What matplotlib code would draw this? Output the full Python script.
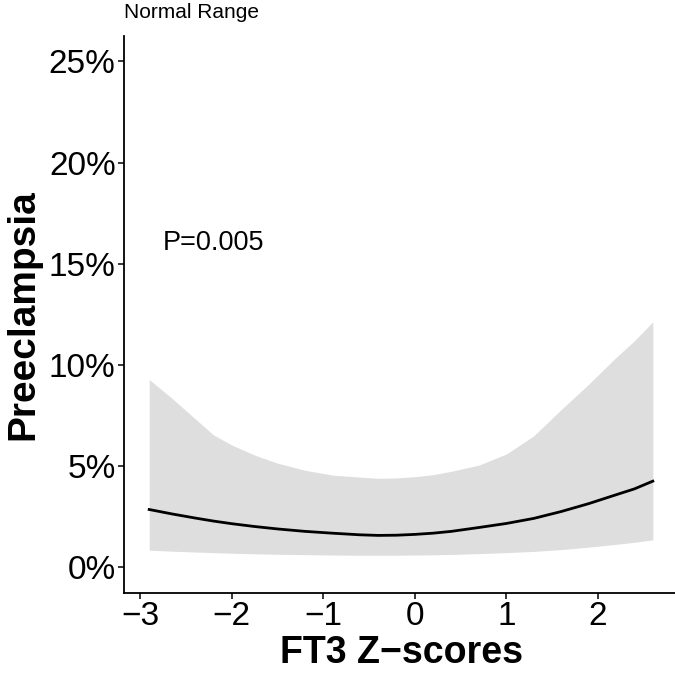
import matplotlib
matplotlib.use("Agg")
import matplotlib.pyplot as plt

plt.rcParams['font.family'] = ['Liberation Sans', 'DejaVu Sans']

# Data (percent)
x_fit = [-2.9, -2.65, -2.4, -2.2, -2.0, -1.75, -1.5, -1.2, -0.9, -0.6, -0.4, -0.2,
         0.0, 0.2, 0.4, 0.7, 1.0, 1.3, 1.6, 1.9, 2.2, 2.4, 2.6]
y_fit = [2.86, 2.64, 2.44, 2.29, 2.16, 2.02, 1.90, 1.78, 1.69, 1.61, 1.58, 1.59,
         1.63, 1.69, 1.78, 1.97, 2.17, 2.42, 2.76, 3.15, 3.59, 3.88, 4.26]
y_upper = [9.28, 8.35, 7.35, 6.55, 6.05, 5.55, 5.15, 4.80, 4.56, 4.46, 4.40, 4.42,
           4.48, 4.58, 4.75, 5.05, 5.60, 6.50, 7.80, 9.05, 10.38, 11.20, 12.13]
y_lower = [0.85, 0.80, 0.76, 0.73, 0.70, 0.67, 0.65, 0.63, 0.61, 0.60, 0.60, 0.60,
           0.61, 0.62, 0.64, 0.68, 0.73, 0.79, 0.88, 1.00, 1.14, 1.24, 1.36]

x_ticks = [-3, -2, -1, 0, 1, 2]
x_tick_labels = ["\u22123", "\u22122", "\u22121", "0", "1", "2"]
y_ticks = [0, 5, 10, 15, 20, 25]
y_tick_labels = ["0%", "5%", "10%", "15%", "20%", "25%"]

fig = plt.figure(figsize=(6.75, 6.74), dpi=100)
W, H = 675, 674
ax = fig.add_axes([124 / W, (H - 592.7) / H, (678 - 124) / W, (592.7 - 36) / H])

ax.fill_between(x_fit, y_lower, y_upper, color="#DEDEDE", linewidth=0)
ax.plot(x_fit, y_fit, color="black", linewidth=2.0, solid_joinstyle="round")

ax.set_xlim(-3.175, 2.875)
ax.set_ylim(-1.25, 26.25)
ax.set_xticks(x_ticks)
ax.set_xticklabels(x_tick_labels)
ax.set_yticks(y_ticks)
ax.set_yticklabels(y_tick_labels)

for s in ["top", "right"]:
    ax.spines[s].set_visible(False)
for s in ["left", "bottom"]:
    ax.spines[s].set_linewidth(1.3)
    ax.spines[s].set_color("black")

ax.tick_params(axis="both", which="major", length=4, width=1.1, color="black",
               labelsize=24, labelcolor="black", pad=2)

ax.set_xlabel("FT3 Z\u2212scores", fontsize=27, fontweight="bold", labelpad=2)
ax.set_ylabel("Preeclampsia", fontsize=28, fontweight="bold", labelpad=5)

ax.text(-2.2, 16.0, "P=0.005", fontsize=19.5, ha="center", va="center")
fig.text(124 / W, 1 - 12 / H, "Normal Range", fontsize=15, ha="left", va="center")

fig.savefig("out.png", dpi=100)
